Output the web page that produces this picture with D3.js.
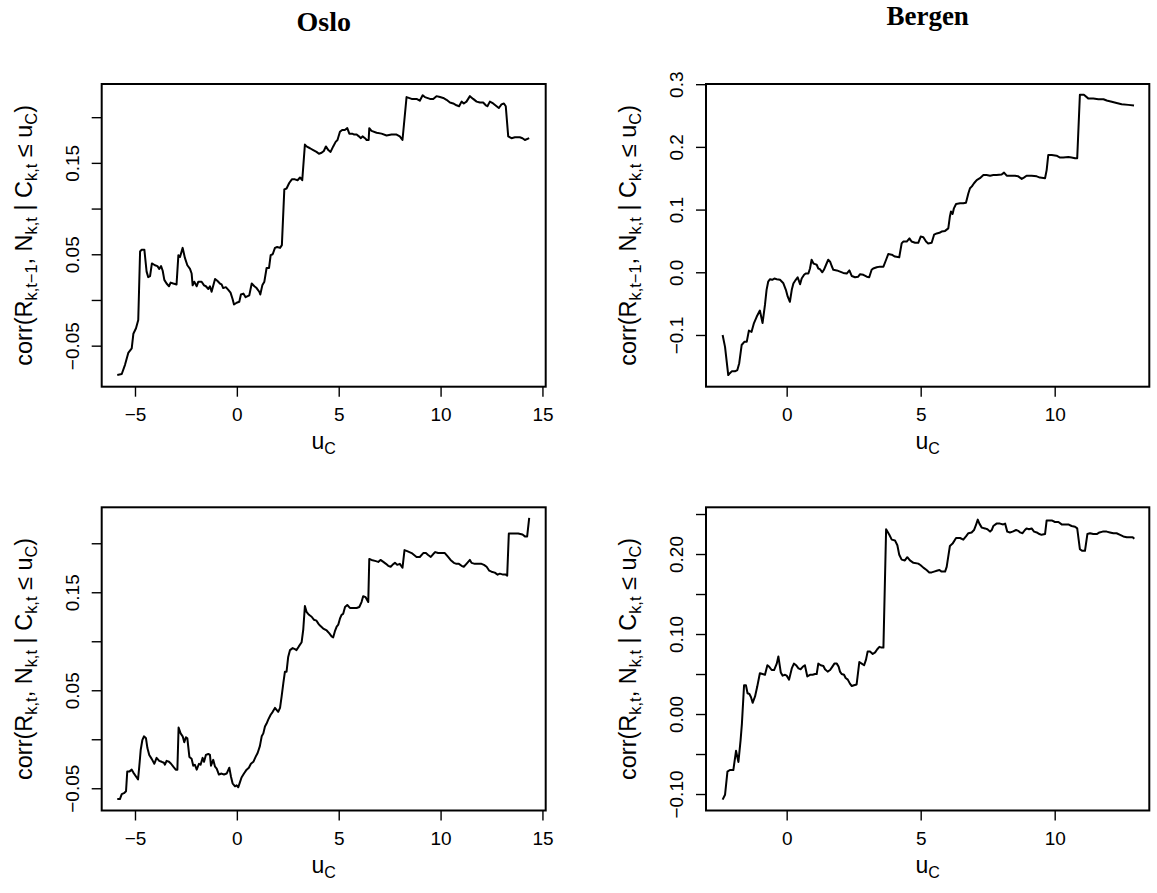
<!DOCTYPE html>
<html>
<head>
<meta charset="utf-8">
<script src="https://cdn.jsdelivr.net/npm/d3@7"></script>
<style>
  html, body { margin: 0; padding: 0; background: #fff; }
  svg { display: block; }
  .tick text { font-family: "Liberation Sans", Arial, sans-serif; fill: #000; }
</style>
</head>
<body>
<svg id="chart" width="1157" height="893"></svg>
<script>
// City titles above each column
const cities = ["Oslo", "Bergen"];

// Axis limits (R-style, 4% padding around the data)
const osloXLim = [-6.634, 15.16];
const bergenXLim = [-3.01, 13.53];
const osloLagYLim = [-0.0949, 0.2363];
const bergenLagYLim = [-0.1825, 0.3003];
const osloSameYLim = [-0.0727, 0.2367];
const bergenSameYLim = [-0.1206, 0.2584];

// Tick positions and their printed labels
const osloXTicks = [-5, 0, 5, 10, 15];
const osloXLabels = ["\u22125", "0", "5", "10", "15"];
const bergenXTicks = [0, 5, 10];
const bergenXLabels = ["0", "5", "10"];
const osloYTicks = [-0.05, 0, 0.05, 0.10, 0.15, 0.20];
const osloYLabels = ["\u22120.05", "", "0.05", "", "0.15", ""];
const bergenLagYTicks = [-0.1, 0, 0.1, 0.2, 0.3];
const bergenLagYLabels = ["\u22120.1", "0.0", "0.1", "0.2", "0.3"];
const bergenSameYTicks = [-0.10, -0.05, 0, 0.05, 0.10, 0.15, 0.20, 0.25];
const bergenSameYLabels = ["\u22120.10", "", "0.00", "", "0.10", "", "0.20", ""];

// corr(R_{k,t-1}, N_{k,t} | C_{k,t} <= u_C) as a function of u_C — Oslo
const osloLag = [[-5.87,-0.082],[-5.65,-0.081],[-5.49,-0.071],[-5.33,-0.058],[-5.16,-0.053],[-5.08,-0.037],[-4.95,-0.031],[-4.84,-0.022],[-4.75,0.053],[-4.67,0.055],[-4.54,0.055],[-4.43,0.031],[-4.35,0.025],[-4.26,0.026],[-4.17,0.040],[-4.02,0.038],[-3.90,0.037],[-3.81,0.034],[-3.72,0.037],[-3.64,0.032],[-3.56,0.022],[-3.45,0.018],[-3.33,0.015],[-3.25,0.019],[-3.12,0.018],[-2.96,0.017],[-2.87,0.049],[-2.79,0.047],[-2.66,0.057],[-2.55,0.046],[-2.43,0.038],[-2.30,0.034],[-2.22,0.029],[-2.17,0.016],[-2.09,0.020],[-1.97,0.015],[-1.89,0.020],[-1.73,0.020],[-1.61,0.016],[-1.52,0.015],[-1.40,0.012],[-1.32,0.015],[-1.24,0.009],[-1.07,0.023],[-0.96,0.021],[-0.83,0.018],[-0.75,0.017],[-0.67,0.013],[-0.54,0.014],[-0.42,0.011],[-0.31,0.008],[-0.21,0.001],[-0.14,-0.005],[-0.01,-0.003],[0.12,-0.002],[0.20,0.006],[0.32,0.007],[0.43,0.003],[0.61,0.005],[0.73,0.018],[0.86,0.015],[0.97,0.013],[1.10,0.009],[1.15,0.006],[1.25,0.016],[1.35,0.020],[1.46,0.035],[1.58,0.035],[1.66,0.049],[1.76,0.050],[1.87,0.057],[1.98,0.058],[2.12,0.057],[2.21,0.060],[2.33,0.121],[2.44,0.122],[2.57,0.128],[2.70,0.132],[2.85,0.132],[2.98,0.131],[3.10,0.134],[3.21,0.131],[3.34,0.170],[3.42,0.168],[3.59,0.166],[3.75,0.164],[3.91,0.162],[4.03,0.160],[4.16,0.161],[4.27,0.163],[4.37,0.168],[4.49,0.164],[4.60,0.162],[4.73,0.168],[4.85,0.173],[4.94,0.175],[5.06,0.184],[5.17,0.186],[5.30,0.186],[5.42,0.188],[5.52,0.182],[5.66,0.182],[5.76,0.181],[5.88,0.181],[5.99,0.179],[6.09,0.177],[6.17,0.179],[6.29,0.177],[6.37,0.175],[6.47,0.175],[6.50,0.188],[6.61,0.185],[6.86,0.183],[7.10,0.182],[7.35,0.180],[7.59,0.181],[7.84,0.181],[8.00,0.179],[8.13,0.175],[8.33,0.222],[8.58,0.220],[8.82,0.220],[8.98,0.218],[9.12,0.224],[9.23,0.222],[9.48,0.220],[9.64,0.220],[9.80,0.223],[9.97,0.222],[10.13,0.221],[10.29,0.219],[10.46,0.216],[10.62,0.215],[10.78,0.213],[10.91,0.212],[11.03,0.217],[11.14,0.215],[11.27,0.217],[11.44,0.223],[11.60,0.220],[11.77,0.217],[11.93,0.216],[12.09,0.216],[12.22,0.213],[12.30,0.212],[12.42,0.217],[12.58,0.215],[12.75,0.212],[12.86,0.210],[12.99,0.214],[13.11,0.215],[13.20,0.212],[13.32,0.179],[13.48,0.177],[13.65,0.178],[13.89,0.178],[14.02,0.177],[14.14,0.175],[14.35,0.177]];

// corr(R_{k,t-1}, N_{k,t} | C_{k,t} <= u_C) — Bergen
const bergenLag = [[-2.39,-0.100],[-2.30,-0.119],[-2.18,-0.164],[-2.12,-0.161],[-2.05,-0.158],[-1.93,-0.158],[-1.84,-0.156],[-1.77,-0.145],[-1.68,-0.116],[-1.58,-0.111],[-1.49,-0.111],[-1.41,-0.093],[-1.31,-0.095],[-1.22,-0.081],[-1.12,-0.071],[-1.00,-0.061],[-0.90,-0.081],[-0.81,-0.052],[-0.75,-0.028],[-0.69,-0.015],[-0.62,-0.011],[-0.54,-0.012],[-0.46,-0.010],[-0.37,-0.011],[-0.25,-0.012],[-0.13,-0.017],[-0.03,-0.028],[0.04,-0.039],[0.12,-0.047],[0.19,-0.028],[0.25,-0.018],[0.34,-0.012],[0.41,-0.008],[0.50,-0.019],[0.56,-0.010],[0.65,-0.004],[0.71,-0.002],[0.81,-0.002],[0.87,0.006],[0.93,0.020],[1.00,0.014],[1.06,0.013],[1.12,0.012],[1.18,0.006],[1.24,0.005],[1.33,0.000],[1.39,0.004],[1.47,0.012],[1.55,0.020],[1.62,0.017],[1.68,0.010],[1.74,0.004],[1.87,0.003],[1.99,0.001],[2.11,-0.001],[2.24,-0.002],[2.34,0.003],[2.43,-0.006],[2.55,-0.008],[2.67,-0.007],[2.74,-0.003],[2.86,-0.004],[2.99,-0.007],[3.08,-0.008],[3.17,0.004],[3.23,0.006],[3.36,0.008],[3.48,0.009],[3.61,0.009],[3.71,0.020],[3.79,0.029],[3.92,0.028],[4.04,0.025],[4.20,0.024],[4.29,0.046],[4.35,0.049],[4.48,0.049],[4.58,0.054],[4.66,0.049],[4.79,0.047],[4.91,0.047],[5.00,0.057],[5.10,0.056],[5.20,0.049],[5.28,0.046],[5.41,0.047],[5.50,0.060],[5.60,0.062],[5.70,0.063],[5.78,0.065],[5.91,0.066],[6.03,0.070],[6.09,0.089],[6.13,0.097],[6.19,0.093],[6.24,0.102],[6.32,0.109],[6.47,0.110],[6.59,0.110],[6.69,0.111],[6.78,0.126],[6.84,0.134],[6.91,0.137],[6.99,0.142],[7.09,0.147],[7.21,0.150],[7.34,0.155],[7.46,0.155],[7.59,0.154],[7.71,0.155],[7.83,0.155],[8.02,0.156],[8.11,0.159],[8.21,0.154],[8.39,0.154],[8.52,0.154],[8.64,0.153],[8.77,0.149],[8.85,0.151],[8.95,0.154],[9.14,0.154],[9.33,0.153],[9.45,0.151],[9.64,0.150],[9.70,0.163],[9.76,0.187],[9.89,0.187],[10.07,0.186],[10.20,0.183],[10.32,0.183],[10.51,0.184],[10.63,0.183],[10.76,0.182],[10.84,0.182],[10.94,0.283],[11.09,0.283],[11.26,0.277],[11.44,0.277],[11.63,0.276],[11.82,0.276],[11.94,0.274],[12.13,0.272],[12.31,0.270],[12.50,0.268],[12.75,0.267],[12.96,0.266]];

// corr(R_{k,t}, N_{k,t} | C_{k,t} <= u_C) — Oslo
const osloSame = [[-5.87,-0.061],[-5.74,-0.061],[-5.65,-0.056],[-5.54,-0.055],[-5.44,-0.053],[-5.38,-0.033],[-5.28,-0.033],[-5.16,-0.031],[-5.08,-0.034],[-4.95,-0.038],[-4.85,-0.041],[-4.79,-0.028],[-4.72,-0.011],[-4.64,-0.001],[-4.56,0.003],[-4.46,0.001],[-4.39,-0.009],[-4.30,-0.016],[-4.18,-0.020],[-4.05,-0.025],[-3.94,-0.019],[-3.81,-0.022],[-3.69,-0.023],[-3.58,-0.024],[-3.53,-0.026],[-3.45,-0.022],[-3.33,-0.023],[-3.23,-0.025],[-3.12,-0.028],[-3.00,-0.031],[-2.92,-0.031],[-2.86,0.012],[-2.76,0.006],[-2.66,0.003],[-2.58,-0.003],[-2.50,0.002],[-2.43,0.001],[-2.33,-0.018],[-2.22,-0.020],[-2.14,-0.027],[-2.06,-0.026],[-1.97,-0.031],[-1.86,-0.025],[-1.78,-0.026],[-1.68,-0.019],[-1.61,-0.023],[-1.52,-0.016],[-1.40,-0.015],[-1.32,-0.016],[-1.27,-0.027],[-1.16,-0.021],[-1.07,-0.028],[-0.99,-0.030],[-0.88,-0.036],[-0.75,-0.035],[-0.63,-0.036],[-0.50,-0.035],[-0.37,-0.029],[-0.29,-0.038],[-0.21,-0.045],[-0.09,-0.048],[-0.01,-0.047],[0.07,-0.049],[0.15,-0.044],[0.23,-0.039],[0.35,-0.035],[0.48,-0.031],[0.59,-0.029],[0.69,-0.025],[0.81,-0.023],[0.92,-0.018],[1.02,-0.014],[1.13,-0.007],[1.22,0.003],[1.30,0.006],[1.38,0.013],[1.46,0.016],[1.54,0.020],[1.66,0.025],[1.76,0.028],[1.87,0.032],[1.95,0.030],[2.03,0.028],[2.12,0.032],[2.20,0.044],[2.28,0.057],[2.36,0.069],[2.44,0.069],[2.52,0.084],[2.61,0.091],[2.74,0.093],[2.85,0.092],[2.93,0.091],[3.05,0.095],[3.18,0.099],[3.26,0.112],[3.34,0.136],[3.42,0.130],[3.54,0.127],[3.67,0.125],[3.78,0.122],[3.91,0.121],[4.00,0.118],[4.08,0.116],[4.24,0.113],[4.41,0.111],[4.54,0.108],[4.65,0.105],[4.73,0.104],[4.81,0.110],[4.90,0.115],[4.98,0.117],[5.06,0.123],[5.14,0.127],[5.22,0.128],[5.31,0.135],[5.42,0.137],[5.55,0.134],[5.71,0.134],[5.88,0.134],[6.01,0.135],[6.12,0.140],[6.20,0.146],[6.32,0.145],[6.45,0.140],[6.50,0.184],[6.61,0.183],[6.78,0.182],[6.94,0.181],[7.05,0.183],[7.19,0.181],[7.32,0.179],[7.43,0.177],[7.55,0.176],[7.64,0.178],[7.76,0.180],[7.87,0.178],[8.00,0.179],[8.13,0.175],[8.23,0.193],[8.36,0.192],[8.58,0.190],[8.82,0.186],[8.98,0.186],[9.15,0.190],[9.28,0.190],[9.39,0.188],[9.52,0.186],[9.64,0.189],[9.74,0.191],[9.88,0.190],[10.05,0.190],[10.21,0.190],[10.37,0.186],[10.49,0.183],[10.65,0.180],[10.78,0.179],[10.90,0.179],[11.03,0.177],[11.14,0.176],[11.27,0.179],[11.44,0.183],[11.52,0.180],[11.68,0.179],[11.85,0.179],[12.01,0.179],[12.13,0.178],[12.26,0.176],[12.39,0.172],[12.50,0.171],[12.66,0.170],[12.80,0.168],[12.91,0.169],[13.07,0.168],[13.20,0.168],[13.27,0.167],[13.35,0.210],[13.56,0.210],[13.81,0.210],[14.02,0.209],[14.14,0.207],[14.25,0.207],[14.35,0.226]];

// corr(R_{k,t}, N_{k,t} | C_{k,t} <= u_C) — Bergen
const bergenSame = [[-2.39,-0.107],[-2.30,-0.101],[-2.21,-0.072],[-2.12,-0.070],[-1.99,-0.070],[-1.89,-0.046],[-1.80,-0.060],[-1.72,-0.033],[-1.67,-0.012],[-1.59,0.036],[-1.52,0.036],[-1.46,0.026],[-1.39,0.025],[-1.33,0.021],[-1.27,0.014],[-1.18,0.022],[-1.10,0.034],[-1.00,0.051],[-0.90,0.050],[-0.81,0.049],[-0.72,0.061],[-0.65,0.059],[-0.56,0.055],[-0.47,0.055],[-0.37,0.063],[-0.31,0.072],[-0.22,0.052],[-0.15,0.048],[-0.06,0.049],[0.00,0.048],[0.09,0.043],[0.19,0.057],[0.27,0.063],[0.35,0.061],[0.44,0.057],[0.52,0.056],[0.60,0.059],[0.68,0.061],[0.77,0.047],[0.87,0.049],[0.97,0.049],[1.06,0.050],[1.12,0.050],[1.18,0.063],[1.27,0.061],[1.37,0.060],[1.43,0.056],[1.53,0.053],[1.62,0.055],[1.70,0.059],[1.78,0.063],[1.87,0.063],[1.94,0.059],[1.99,0.053],[2.05,0.050],[2.14,0.049],[2.20,0.045],[2.28,0.043],[2.36,0.038],[2.43,0.035],[2.51,0.036],[2.61,0.037],[2.71,0.065],[2.80,0.063],[2.89,0.061],[2.96,0.068],[3.02,0.078],[3.11,0.078],[3.21,0.075],[3.30,0.077],[3.38,0.081],[3.46,0.084],[3.54,0.083],[3.61,0.083],[3.71,0.231],[3.83,0.224],[3.92,0.218],[4.04,0.217],[4.13,0.211],[4.20,0.199],[4.29,0.193],[4.41,0.192],[4.50,0.196],[4.60,0.192],[4.73,0.189],[4.91,0.188],[5.00,0.186],[5.10,0.183],[5.22,0.180],[5.32,0.177],[5.41,0.177],[5.50,0.178],[5.60,0.179],[5.70,0.180],[5.78,0.178],[5.91,0.178],[5.97,0.184],[6.03,0.197],[6.09,0.210],[6.19,0.213],[6.32,0.220],[6.47,0.220],[6.59,0.218],[6.69,0.222],[6.78,0.226],[6.90,0.227],[6.99,0.230],[7.06,0.236],[7.13,0.243],[7.19,0.238],[7.28,0.233],[7.40,0.232],[7.49,0.231],[7.59,0.228],[7.65,0.230],[7.71,0.235],[7.83,0.238],[7.96,0.238],[8.08,0.237],[8.15,0.238],[8.23,0.228],[8.33,0.227],[8.43,0.228],[8.56,0.230],[8.64,0.229],[8.71,0.227],[8.80,0.226],[8.89,0.230],[8.95,0.232],[9.04,0.231],[9.14,0.232],[9.23,0.228],[9.33,0.227],[9.43,0.225],[9.51,0.224],[9.64,0.225],[9.70,0.242],[9.76,0.242],[9.89,0.242],[10.01,0.240],[10.14,0.240],[10.26,0.237],[10.38,0.237],[10.51,0.237],[10.63,0.235],[10.76,0.234],[10.84,0.232],[10.94,0.206],[11.03,0.204],[11.13,0.204],[11.22,0.225],[11.32,0.226],[11.44,0.225],[11.57,0.225],[11.67,0.227],[11.79,0.228],[11.94,0.228],[12.06,0.227],[12.19,0.226],[12.31,0.226],[12.44,0.224],[12.56,0.222],[12.69,0.221],[12.81,0.221],[12.91,0.221],[12.97,0.219]];

const svg = d3.select("#chart");
const SANS = '"Liberation Sans", Arial, Helvetica, sans-serif';

// Panel frames in page pixels
const leftCol = [101.7, 545.7], rightCol = [706, 1149.3];
const topRow = [84, 386.7], bottomRow = [507.3, 810.5];

const panels = [
  { col: leftCol,  row: topRow,    xlim: osloXLim,   ylim: osloLagYLim,    data: osloLag,
    xt: osloXTicks, xl: osloXLabels, yt: osloYTicks, yl: osloYLabels, lagged: true },
  { col: rightCol, row: topRow,    xlim: bergenXLim, ylim: bergenLagYLim,  data: bergenLag,
    xt: bergenXTicks, xl: bergenXLabels, yt: bergenLagYTicks, yl: bergenLagYLabels, lagged: true },
  { col: leftCol,  row: bottomRow, xlim: osloXLim,   ylim: osloSameYLim,   data: osloSame,
    xt: osloXTicks, xl: osloXLabels, yt: osloYTicks, yl: osloYLabels, lagged: false },
  { col: rightCol, row: bottomRow, xlim: bergenXLim, ylim: bergenSameYLim, data: bergenSame,
    xt: bergenXTicks, xl: bergenXLabels, yt: bergenSameYTicks, yl: bergenSameYLabels, lagged: false }
];

// Build "corr(R_{k,t-1}, N_{k,t} | C_{k,t} ≤ u_C)" out of normal and subscript runs
function yTitleRuns(lagged) {
  return [
    ["corr(R", false], [lagged ? "k,t\u22121" : "k,t", true],
    [", N", false], ["k,t", true],
    [" | C", false], ["k,t", true],
    [" \u2264 u", false], ["C", true], [")", false]
  ];
}

function addRuns(textSel, runs, mainSize, subSize, subShift) {
  let shifted = false;
  runs.forEach(([s, isSub]) => {
    const t = textSel.append("tspan").text(s)
      .attr("font-size", isSub ? subSize : mainSize);
    if (isSub && !shifted) { t.attr("dy", subShift); shifted = true; }
    else if (!isSub && shifted) { t.attr("dy", -subShift); shifted = false; }
  });
}

panels.forEach(p => {
  const x = d3.scaleLinear().domain(p.xlim).range(p.col);
  const y = d3.scaleLinear().domain(p.ylim).range([p.row[1], p.row[0]]);
  const g = svg.append("g");

  // x axis
  const xAxis = d3.axisBottom(x).tickValues(p.xt)
    .tickFormat((d, i) => p.xl[i]).tickSize(10).tickPadding(11);
  const gx = g.append("g").attr("transform", `translate(0,${p.row[1]})`).call(xAxis);
  gx.select(".domain").remove();
  gx.selectAll(".tick line").attr("stroke", "#000").attr("stroke-width", 1.4);
  gx.selectAll(".tick text").attr("font-size", 19).attr("font-family", SANS);

  // y axis with labels turned parallel to the axis
  const yAxis = d3.axisLeft(y).tickValues(p.yt)
    .tickFormat((d, i) => p.yl[i]).tickSize(10);
  const gy = g.append("g").attr("transform", `translate(${p.col[0]},0)`).call(yAxis);
  gy.select(".domain").remove();
  gy.selectAll(".tick line").attr("stroke", "#000").attr("stroke-width", 1.4);
  gy.selectAll(".tick text")
    .attr("x", null).attr("dy", null)
    .attr("font-size", 19).attr("font-family", SANS)
    .attr("text-anchor", "middle")
    .attr("transform", "translate(-23,0) rotate(-90)");

  // curve
  const line = d3.line().x(d => x(d[0])).y(d => y(d[1]));
  g.append("path").datum(p.data)
    .attr("d", line).attr("fill", "none")
    .attr("stroke", "#000").attr("stroke-width", 2)
    .attr("stroke-linejoin", "round");

  // frame
  g.append("rect")
    .attr("x", p.col[0]).attr("y", p.row[0])
    .attr("width", p.col[1] - p.col[0]).attr("height", p.row[1] - p.row[0])
    .attr("fill", "none").attr("stroke", "#000").attr("stroke-width", 2);

  // x title u_C
  const xt = g.append("text")
    .attr("x", (p.col[0] + p.col[1]) / 2).attr("y", p.row[1] + 62)
    .attr("text-anchor", "middle").attr("font-family", SANS).attr("fill", "#000");
  addRuns(xt, [["u", false], ["C", true]], 23, 16, 5);

  // y title
  const cy = (p.row[0] + p.row[1]) / 2;
  const cx = p.col[0] - 70;
  const yt = g.append("text")
    .attr("transform", `translate(${cx},${cy}) rotate(-90)`)
    .attr("text-anchor", "middle").attr("font-family", SANS).attr("fill", "#000");
  addRuns(yt, yTitleRuns(p.lagged), 23.5, 16.4, 5);
});

// column titles
svg.append("text").text(cities[0])
  .attr("x", (leftCol[0] + leftCol[1]) / 2).attr("y", 31)
  .attr("text-anchor", "middle")
  .attr("font-family", '"Liberation Serif", "Times New Roman", serif')
  .attr("font-weight", "bold").attr("font-size", 28).attr("fill", "#000");
svg.append("text").text(cities[1])
  .attr("x", (rightCol[0] + rightCol[1]) / 2).attr("y", 25)
  .attr("text-anchor", "middle")
  .attr("font-family", '"Liberation Serif", "Times New Roman", serif')
  .attr("font-weight", "bold").attr("font-size", 27).attr("fill", "#000");
</script>
</body>
</html>
